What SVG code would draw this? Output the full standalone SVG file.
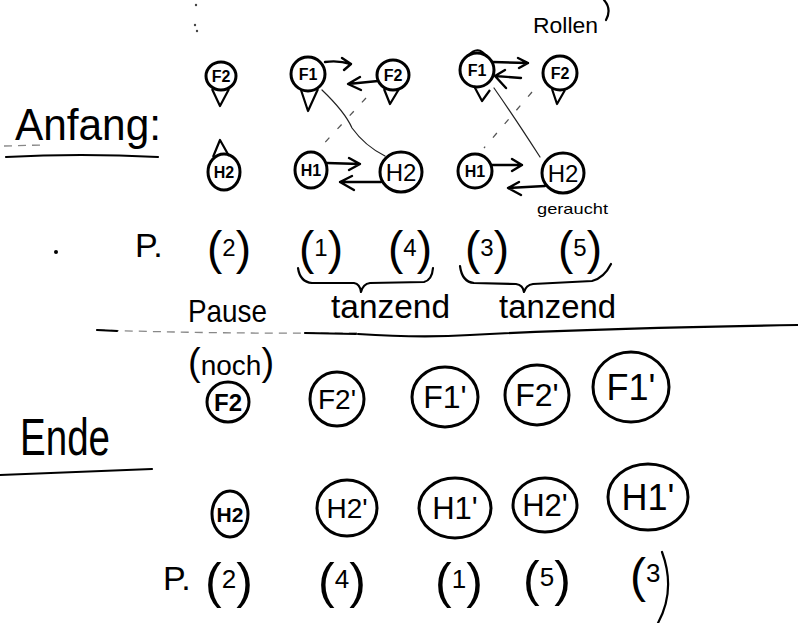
<svg xmlns="http://www.w3.org/2000/svg" width="798" height="623" viewBox="0 0 798 623">
<style>
  .bg{fill:#fff}
  .ring{fill:none;stroke:#000;stroke-width:3}
  .pin{fill:none;stroke:#000;stroke-width:2.2;stroke-linejoin:round}
  .lbl{font-family:"Liberation Sans",Arial,sans-serif;fill:#000;text-anchor:middle}
  .sm{font-weight:bold;font-size:16px}
  .hand{font-family:"Liberation Sans",Arial,sans-serif;fill:#000}
  .stroke{fill:none;stroke:#000;stroke-width:2.2;stroke-linecap:round;stroke-linejoin:round}
  .thin{fill:none;stroke:#222;stroke-width:1.2;stroke-linecap:round}
  .dash{fill:none;stroke:#555;stroke-width:1.3;stroke-dasharray:6 12}
  .faint{fill:none;stroke:#888;stroke-width:1.3;stroke-dasharray:8 6}
  .arr{fill:none;stroke:#000;stroke-width:2.4;stroke-linecap:round;stroke-linejoin:round}
</style>
<rect class="bg" x="0" y="0" width="798" height="623"/>

<!-- headings and free text -->
<g id="headings">
  <text class="hand" x="15" y="140" font-size="44" textLength="146" lengthAdjust="spacingAndGlyphs">Anfang:</text>
  <path class="faint" d="M4,146 L42,145"/>
  <path class="stroke" d="M6,157 Q80,153 158,157"/>
  <text class="hand" x="20" y="455" font-size="52" textLength="90" lengthAdjust="spacingAndGlyphs">Ende</text>
  <path class="stroke" d="M0,475 Q80,472 152,469"/>
  <text class="hand" x="533" y="33" font-size="22" textLength="65" lengthAdjust="spacingAndGlyphs">Rollen</text>
  <path class="stroke" d="M604,0 Q612,9 606,20"/>
  <text class="hand" x="537" y="214" font-size="15" textLength="71" lengthAdjust="spacingAndGlyphs">geraucht</text>
  <text class="hand" x="331" y="318" font-size="34" textLength="119" lengthAdjust="spacingAndGlyphs">tanzend</text>
  <text class="hand" x="499" y="318" font-size="34" textLength="117" lengthAdjust="spacingAndGlyphs">tanzend</text>
  <text class="hand" x="188" y="322" font-size="32" textLength="79" lengthAdjust="spacingAndGlyphs">Pause</text>
  <text class="hand" x="188" y="375"><tspan font-size="38">(</tspan><tspan font-size="28">noch</tspan><tspan font-size="38">)</tspan></text>
  <circle cx="56" cy="252" r="2" fill="#000"/>
  <circle cx="196" cy="5" r="1.2" fill="#444"/>
  <circle cx="195" cy="25" r="1.2" fill="#444"/>
  <circle cx="197" cy="31" r="1.2" fill="#444"/>
</g>

<!-- divider -->
<g id="divider">
  <path class="faint" d="M97,330 Q220,334 358,333"/>
  <path class="stroke" d="M97,330 L117,331 M305,333 L356,334"/>
  <path class="stroke" d="M358,334 Q420,338 470,335 Q600,328 798,325"/>
</g>

<!-- braces -->
<g id="braces">
  <path class="stroke" d="M298,268 Q300,282 312,283 L354,283 Q360,284 361,292 Q363,284 370,283 L424,282 Q432,280 433,268"/>
  <path class="stroke" d="M460,266 Q462,282 474,283 L516,284 Q523,285 524,292 Q526,285 533,284 L592,281 Q604,278 611,264"/>
</g>

<!-- P rows -->
<g id="prow1" class="hand">
  <text x="135" y="257" font-size="34">P.</text>
  <text x="207" y="264"><tspan font-size="46">(</tspan><tspan font-size="24" dy="-8">2</tspan><tspan font-size="46" dy="8">)</tspan></text>
  <text x="299" y="264"><tspan font-size="46">(</tspan><tspan font-size="24" dy="-8">1</tspan><tspan font-size="46" dy="8">)</tspan></text>
  <text x="388" y="264"><tspan font-size="46">(</tspan><tspan font-size="24" dy="-8">4</tspan><tspan font-size="46" dy="8">)</tspan></text>
  <text x="465" y="264"><tspan font-size="46">(</tspan><tspan font-size="24" dy="-8">3</tspan><tspan font-size="46" dy="8">)</tspan></text>
  <text x="558" y="264"><tspan font-size="46">(</tspan><tspan font-size="24" dy="-8">5</tspan><tspan font-size="46" dy="8">)</tspan></text>
</g>
<g id="prow2" class="hand">
  <text x="163" y="590" font-size="34">P.</text>
  <text x="205" y="598"><tspan font-size="50">(</tspan><tspan font-size="26" dy="-10">2</tspan><tspan font-size="50" dy="10">)</tspan></text>
  <text x="318" y="598"><tspan font-size="50">(</tspan><tspan font-size="26" dy="-10">4</tspan><tspan font-size="50" dy="10">)</tspan></text>
  <text x="435" y="598"><tspan font-size="50">(</tspan><tspan font-size="26" dy="-10">1</tspan><tspan font-size="50" dy="10">)</tspan></text>
  <text x="523" y="596"><tspan font-size="50">(</tspan><tspan font-size="26" dy="-10">5</tspan><tspan font-size="50" dy="10">)</tspan></text>
  <text x="630" y="592"><tspan font-size="48">(</tspan><tspan font-size="26" dy="-10">3</tspan></text>
  <path class="stroke" d="M662,552 Q676,590 658,623"/>
</g>

<!-- top row: F -->
<g id="F2_a"><ellipse class="ring" cx="221" cy="76" rx="15" ry="14"/><path class="pin" d="M212,89 L220,106 L229,89"/><text class="lbl sm" x="221" y="82">F2</text></g>
<g id="F1_a"><ellipse class="ring" cx="308" cy="74" rx="17" ry="17"/><path class="pin" d="M301,90 L308,111 L318,89"/><text class="lbl sm" x="308" y="80">F1</text></g>
<g id="F2_b"><ellipse class="ring" cx="393" cy="75" rx="16" ry="15"/><path class="pin" d="M384,89 L390,104 L399,89"/><text class="lbl sm" x="393" y="81">F2</text></g>
<g id="F1_b"><ellipse class="ring" cx="477" cy="70" rx="17" ry="17"/><path class="pin" d="M474,86 L482,101 L490,90"/><path class="pin" d="M468,56 Q478,44 487,57"/><text class="lbl sm" x="477" y="76">F1</text></g>
<g id="F2_c"><ellipse class="ring" cx="560" cy="73" rx="17" ry="17"/><path class="pin" d="M552,89 L557,104 L565,90"/><text class="lbl sm" x="560" y="79">F2</text></g>

<!-- top row: H -->
<g id="H2_a"><ellipse class="ring" cx="224" cy="172" rx="16" ry="18"/><path class="pin" d="M213,157 L220,140 L229,156"/><text class="lbl sm" x="224" y="178">H2</text></g>
<g id="H1_a"><ellipse class="ring" cx="311" cy="170" rx="16" ry="18"/><text class="lbl sm" x="311" y="176">H1</text></g>
<g id="H2_b"><ellipse class="ring" cx="401" cy="172" rx="21" ry="20"/><text class="lbl" x="401" y="181" font-size="24">H2</text></g>
<g id="H1_b"><ellipse class="ring" cx="475" cy="171" rx="17" ry="17"/><text class="lbl sm" x="475" y="177">H1</text></g>
<g id="H2_c"><ellipse class="ring" cx="563" cy="173" rx="21" ry="20"/><text class="lbl" x="563" y="182" font-size="24">H2</text></g>

<!-- end row: F' -->
<g id="F2_d"><ellipse class="ring" cx="228" cy="402" rx="21" ry="20"/><text class="lbl" x="228" y="411" font-size="24" font-weight="bold">F2</text></g>
<g id="F2p_a"><ellipse class="ring" cx="337" cy="399" rx="27" ry="27"/><text class="lbl" x="337" y="409" font-size="28">F2'</text></g>
<g id="F1p_a"><ellipse class="ring" cx="445" cy="397" rx="33" ry="30"/><text class="lbl" x="445" y="408" font-size="32">F1'</text></g>
<g id="F2p_b"><ellipse class="ring" cx="537" cy="395" rx="32" ry="30"/><text class="lbl" x="537" y="406" font-size="32">F2'</text></g>
<g id="F1p_b"><ellipse class="ring" cx="631" cy="387" rx="38" ry="35"/><text class="lbl" x="631" y="400" font-size="36">F1'</text></g>

<!-- end row: H' -->
<g id="H2_d"><ellipse class="ring" cx="230" cy="514" rx="18" ry="23"/><text class="lbl" x="230" y="522" font-size="21" font-weight="bold">H2</text></g>
<g id="H2p_a"><ellipse class="ring" cx="347" cy="508" rx="30" ry="28"/><text class="lbl" x="347" y="518" font-size="28">H2'</text></g>
<g id="H1p_a"><ellipse class="ring" cx="455" cy="508" rx="36" ry="30"/><text class="lbl" x="455" y="519" font-size="31">H1'</text></g>
<g id="H2p_b"><ellipse class="ring" cx="545" cy="505" rx="32" ry="27"/><text class="lbl" x="545" y="516" font-size="31">H2'</text></g>
<g id="H1p_b"><ellipse class="ring" cx="648" cy="497" rx="40" ry="33"/><text class="lbl" x="648" y="510" font-size="36">H1'</text></g>

<!-- connectors -->
<g id="connectors">
  <path class="arr" d="M325,62 Q338,60 351,64 M342,58 L351,64 L344,70"/>
  <path class="arr" d="M378,81 L348,84 M360,77 L348,84 L361,90"/>
  <path class="arr" d="M493,62 L528,63 M518,58 L528,63 L519,68"/>
  <path class="arr" d="M521,78 L495,76 M505,70 L495,76 L506,88"/>
  <path class="arr" d="M327,163 L360,164 M349,158 L360,164 L349,170"/>
  <path class="arr" d="M381,182 L340,182 M352,176 L340,182 L354,190"/>
  <path class="arr" d="M492,165 L522,165 M512,159 L522,165 L512,171"/>
  <path class="arr" d="M545,186 L508,188 M519,182 L508,188 L521,195"/>
  <path class="thin" d="M322,90 Q345,112 352,128 Q365,146 385,156"/>
  <path class="dash" d="M366,98 L318,150"/>
  <path class="thin" d="M494,88 Q515,118 540,157"/>
  <path class="dash" d="M532,92 L484,148"/>
</g>
</svg>
